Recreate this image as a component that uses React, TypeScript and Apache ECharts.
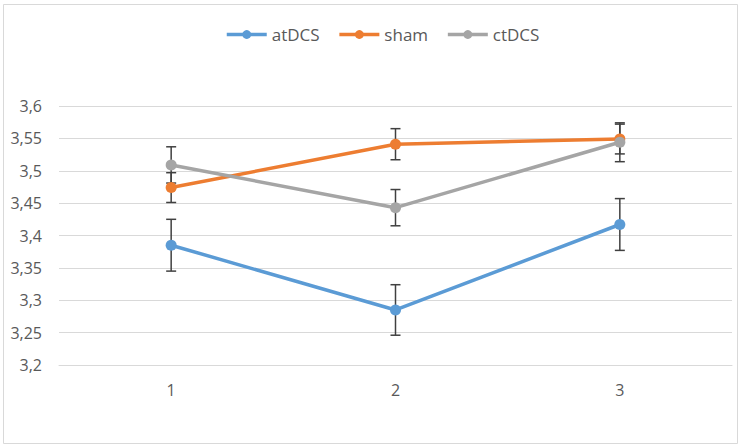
import React, { useEffect, useRef } from "react";
import * as echarts from "echarts";

const categories = ["1", "2", "3"];
const seriesNames = ["atDCS", "sham", "ctDCS"];
const atDCS = [3.385, 3.285, 3.417];
const sham = [3.474, 3.541, 3.549];
const ctDCS = [3.509, 3.443, 3.544];
const atDCSErr = [0.04, 0.039, 0.04];
const shamErr = [0.023, 0.024, 0.023];
const ctDCSErr = [0.028, 0.028, 0.03];
const yTicks = { min: 3.2, max: 3.6, interval: 0.05 };

const colors = ["#5B9BD5", "#ED7D31", "#A5A5A5"];
const FONT = "'Open Sans', 'Noto Sans', sans-serif";

export default function App() {
  const ref = useRef<HTMLDivElement>(null);
  useEffect(() => {
    document.body.style.margin = "0";
    const chart = echarts.init(ref.current!, null, { renderer: "svg" });
    const values = [atDCS, sham, ctDCS];
    const errs = [atDCSErr, shamErr, ctDCSErr];

    const errorSeries = values.map((vals, si) => ({
      type: "custom",
      name: seriesNames[si] + " err",
      z: 1,
      silent: true,
      data: vals.map((v, i) => [i, v, errs[si][i]]),
      renderItem: (params: any, api: any) => {
        const x = api.value(0);
        const y = api.value(1);
        const e = api.value(2);
        const top = api.coord([x, y + e]);
        const bot = api.coord([x, y - e]);
        const style = { stroke: "#404040", lineWidth: 1.5 };
        return {
          type: "group",
          children: [
            { type: "line", shape: { x1: top[0], y1: top[1], x2: bot[0], y2: bot[1] }, style },
            { type: "line", shape: { x1: top[0] - 5, y1: top[1], x2: top[0] + 5, y2: top[1] }, style },
            { type: "line", shape: { x1: bot[0] - 5, y1: bot[1], x2: bot[0] + 5, y2: bot[1] }, style },
          ],
        };
      },
    }));

    const lineSeries = values.map((vals, si) => ({
      type: "line",
      name: seriesNames[si],
      data: vals,
      z: 2 + si,
      symbol: "circle",
      symbolSize: 11,
      itemStyle: { color: colors[si] },
      lineStyle: { color: colors[si], width: 3.5 },
    }));

    chart.setOption({
      animation: false,
      backgroundColor: "#ffffff",
      textStyle: { fontFamily: FONT },
      graphic: [
        {
          type: "rect",
          shape: { x: 3.5, y: 4.5, width: 734, height: 439 },
          style: { fill: "none", stroke: "#D9D9D9", lineWidth: 1 },
          silent: true,
        },
      ],
      legend: {
        data: seriesNames,
        left: 220,
        top: 21,
        itemWidth: 40,
        itemHeight: 11,
        itemGap: 18,
        lineStyle: { width: 3.5 },
        textStyle: { color: "#595959", fontSize: 17, fontFamily: FONT },
      },
      grid: { left: 59, right: 11, top: 106, bottom: 83, containLabel: false },
      xAxis: {
        type: "category",
        data: categories,
        boundaryGap: true,
        axisLine: { show: true, lineStyle: { color: "#D9D9D9", width: 1 } },
        axisTick: { show: false },
        axisLabel: { color: "#595959", fontSize: 16, margin: 17, fontFamily: FONT },
      },
      yAxis: {
        type: "value",
        min: yTicks.min,
        max: yTicks.max,
        interval: yTicks.interval,
        axisLine: { show: false },
        axisTick: { show: false },
        splitLine: { lineStyle: { color: "#D9D9D9", width: 1 } },
        axisLabel: {
          color: "#595959",
          fontSize: 16,
          margin: 17,
          fontFamily: FONT,
          formatter: (v: number) => String(Math.round(v * 100) / 100).replace(".", ","),
        },
      },
      series: [...errorSeries, ...lineSeries],
    });
    return () => chart.dispose();
  }, []);
  return (
    <div
      ref={ref}
      style={{ position: "absolute", left: 0, top: 0, width: 743, height: 448 }}
    />
  );
}
